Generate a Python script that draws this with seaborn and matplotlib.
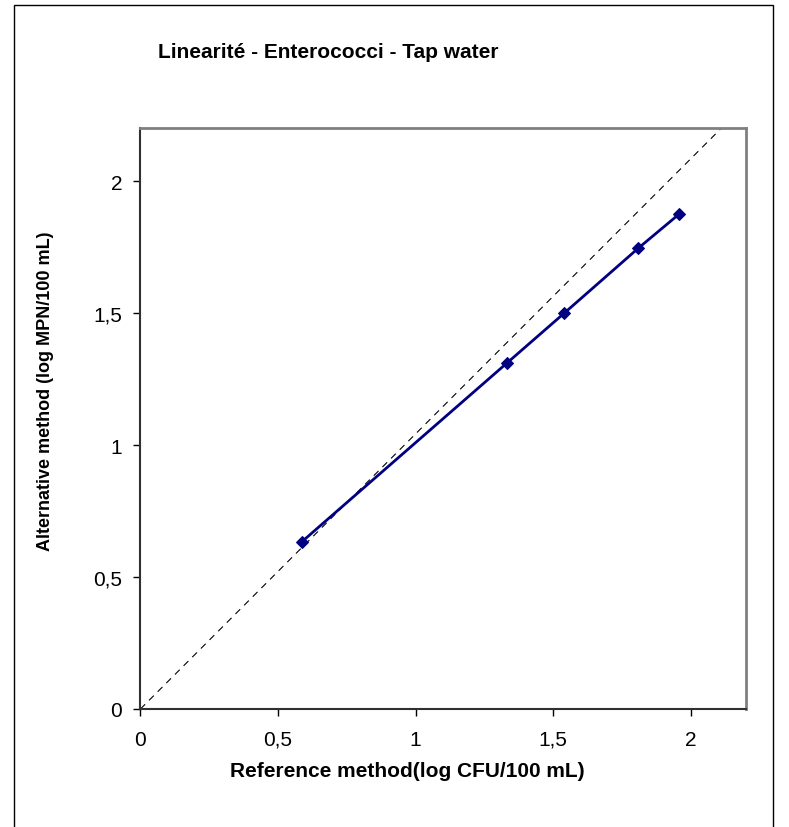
import matplotlib
matplotlib.use("Agg")
import matplotlib.pyplot as plt
import seaborn as sns
import pandas as pd
from matplotlib.patches import Rectangle
from matplotlib.ticker import FuncFormatter

# Measured pairs (log counts per 100 mL)
reference_log = [0.587, 1.333, 1.540, 1.809, 1.957]
alternative_log = [0.634, 1.312, 1.500, 1.746, 1.875]

# Dashed reference diagonal
diag_x = [0.0, 2.11]
diag_y = [0.0, 2.2]

ticks = [0, 0.5, 1, 1.5, 2]

title = "Linearité - Enterococci - Tap water"
xlabel = "Reference method(log CFU/100 mL)"
ylabel = "Alternative method (log MPN/100 mL)"

sns.set_theme(style="white")
plt.rcParams["font.family"] = ["Liberation Sans", "DejaVu Sans"]
plt.rcParams["text.color"] = "black"

fig = plt.figure(figsize=(7.89, 8.28), dpi=100)
ax = fig.add_axes([140.4 / 789, 1 - 710 / 828, (745.9 - 140.4) / 789, (710 - 129.4) / 828])

data = pd.DataFrame({"ref": reference_log, "alt": alternative_log})
diag = pd.DataFrame({"x": diag_x, "y": diag_y})

sns.lineplot(data=diag, x="x", y="y", ax=ax, color="black", lw=0.8,
             dashes=False, linestyle=(0, (6, 5)), zorder=2)
sns.lineplot(data=data, x="ref", y="alt", ax=ax, color="#000080", lw=2,
             marker="D", markersize=6, markeredgecolor="#000080",
             sort=False, zorder=3)

ax.set_xlim(0, 2.2)
ax.set_ylim(0, 2.2)
ax.set_xticks(ticks)
ax.set_yticks(ticks)
fmt = FuncFormatter(lambda v, p: f"{v:g}".replace(".", ","))
ax.xaxis.set_major_formatter(fmt)
ax.yaxis.set_major_formatter(fmt)
ax.tick_params(axis="both", which="major", direction="out", length=5,
               width=1, color="black", labelsize=15, pad=8,
               bottom=True, left=True, labelcolor="black")
ax.tick_params(axis="x", pad=10)

for side in ("top", "right"):
    ax.spines[side].set_color("#808080")
    ax.spines[side].set_linewidth(2)
for side in ("left", "bottom"):
    ax.spines[side].set_color("#303030")
    ax.spines[side].set_linewidth(1.5)
ax.set_facecolor("white")

ax.set_xlabel("")
ax.set_ylabel("")
fig.text(407 / 789, 1 - 772 / 828, xlabel, ha="center", va="center",
         fontsize=15, fontweight="bold", color="black")
fig.text(46 / 789, 1 - 391 / 828, ylabel, ha="center", va="center",
         rotation=90, fontsize=13, fontweight="bold", color="black")
fig.text(158 / 789, 1 - 52 / 828, title, ha="left", va="center",
         fontsize=15, fontweight="bold", color="black")

# Outer chart border
fig.patches.append(Rectangle((14 / 789, -0.05), (773 - 14) / 789, 1.05 - 6 / 828,
                             transform=fig.transFigure, fill=False,
                             edgecolor="black", lw=1, clip_on=False))

fig.savefig("out.png", dpi=100)
